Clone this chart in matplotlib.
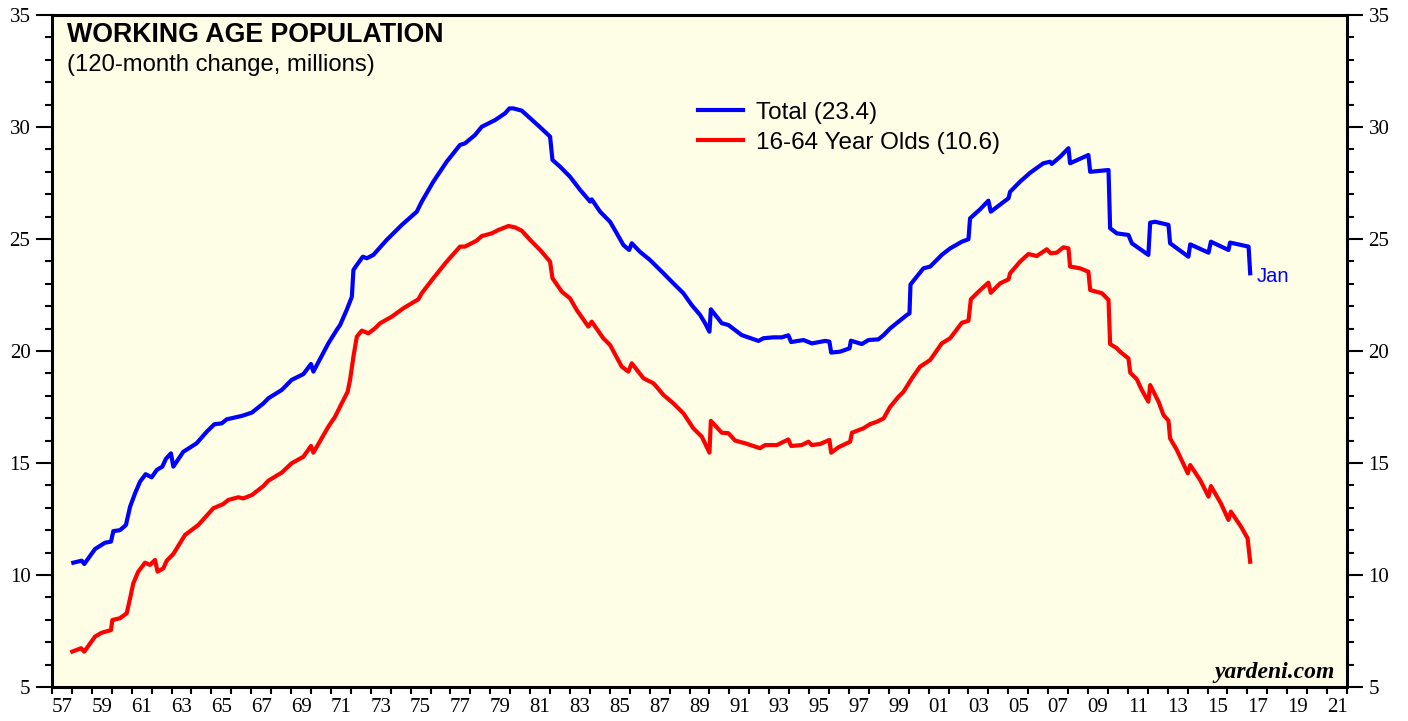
import numpy as np
import matplotlib
matplotlib.use("Agg")
import matplotlib.pyplot as plt
from matplotlib.ticker import MultipleLocator, FixedLocator, FixedFormatter

# Total working age population, 120-month change (millions)
total_years = [1958.07, 1958.49, 1958.62, 1959.16, 1959.66, 1959.96, 1960.08, 1960.41, 1960.71, 1960.92,
               1961.17, 1961.42, 1961.70, 1962.00, 1962.26, 1962.54, 1962.72, 1962.97, 1963.09, 1963.59,
               1964.26, 1964.77, 1965.15, 1965.52, 1965.77, 1966.52, 1967.03, 1967.61, 1967.86, 1968.53,
               1969.03, 1969.62, 1970.00, 1970.12, 1970.87, 1971.29, 1971.46, 1971.79, 1972.05, 1972.13,
               1972.30, 1972.60, 1972.80, 1973.13, 1973.80, 1974.56, 1975.31, 1975.56, 1976.14, 1976.81,
               1977.48, 1977.73, 1978.23, 1978.57, 1978.90, 1979.24, 1979.74, 1979.96, 1980.16, 1980.58,
               1981.00, 1981.50, 1982.00, 1982.12, 1982.50, 1983.00, 1983.51, 1984.01, 1984.09, 1984.51,
               1985.01, 1985.35, 1985.68, 1985.97, 1986.10, 1986.51, 1987.02, 1987.69, 1988.19, 1988.69,
               1989.11, 1989.53, 1989.78, 1990.00, 1990.07, 1990.62, 1990.95, 1991.62, 1992.46, 1992.71,
               1993.21, 1993.63, 1993.96, 1994.10, 1994.72, 1995.14, 1995.81, 1996.02, 1996.11, 1996.56,
               1997.03, 1997.10, 1997.65, 1997.98, 1998.48, 1998.74, 1999.07, 1999.49, 1999.91, 2000.04,
               2000.09, 2000.74, 2001.08, 2001.66, 2002.08, 2002.67, 2003.00, 2003.08, 2003.59, 2004.00,
               2004.12, 2005.01, 2005.09, 2005.59, 2006.10, 2006.76, 2007.10, 2007.18, 2007.60, 2008.02,
               2008.10, 2009.02, 2009.11, 2010.03, 2010.11, 2010.45, 2011.03, 2011.20, 2012.03, 2012.12,
               2012.37, 2013.04, 2013.12, 2014.04, 2014.13, 2015.05, 2015.17, 2016.05, 2016.13, 2017.06,
               2017.14]
total_vals = [10.55, 10.64, 10.49, 11.16, 11.44, 11.49, 11.96, 12.00, 12.23, 13.05,
              13.65, 14.17, 14.50, 14.36, 14.69, 14.84, 15.19, 15.43, 14.84, 15.50,
              15.88, 16.40, 16.73, 16.77, 16.95, 17.10, 17.25, 17.66, 17.89, 18.26,
              18.71, 18.97, 19.42, 19.08, 20.34, 20.94, 21.16, 21.83, 22.42, 23.62,
              23.84, 24.21, 24.14, 24.29, 24.96, 25.63, 26.22, 26.67, 27.56, 28.45,
              29.20, 29.27, 29.64, 30.01, 30.16, 30.31, 30.61, 30.83, 30.83, 30.73,
              30.39, 29.99, 29.57, 28.53, 28.23, 27.78, 27.19, 26.67, 26.77, 26.22,
              25.77, 25.25, 24.73, 24.51, 24.81, 24.43, 24.06, 23.47, 23.02, 22.58,
              22.05, 21.61, 21.24, 20.86, 21.86, 21.24, 21.16, 20.71, 20.45, 20.57,
              20.61, 20.61, 20.70, 20.40, 20.49, 20.34, 20.45, 20.42, 19.93, 19.97,
              20.12, 20.46, 20.31, 20.49, 20.52, 20.71, 21.01, 21.31, 21.61, 21.68,
              22.97, 23.69, 23.77, 24.29, 24.58, 24.88, 24.99, 25.92, 26.33, 26.71,
              26.22, 26.82, 27.11, 27.56, 27.96, 28.38, 28.45, 28.35, 28.67, 29.05,
              28.38, 28.75, 28.00, 28.08, 25.48, 25.25, 25.18, 24.81, 24.29, 25.73,
              25.77, 25.63, 24.81, 24.21, 24.76, 24.39, 24.88, 24.51, 24.84, 24.66,
              23.47]

# 16-64 year olds, 120-month change (millions)
young_years = [1958.02, 1958.46, 1958.62, 1959.16, 1959.49, 1959.96, 1960.03, 1960.41, 1960.75, 1960.92,
               1961.08, 1961.33, 1961.67, 1961.92, 1962.17, 1962.30, 1962.59, 1962.76, 1963.09, 1963.68,
               1964.34, 1965.10, 1965.60, 1965.85, 1966.35, 1966.60, 1967.03, 1967.61, 1967.86, 1968.53,
               1969.03, 1969.62, 1970.00, 1970.12, 1970.87, 1971.21, 1971.54, 1971.84, 1971.96, 1972.13,
               1972.30, 1972.55, 1972.88, 1973.21, 1973.47, 1974.05, 1974.64, 1975.39, 1975.56, 1976.14,
               1976.81, 1977.48, 1977.73, 1978.32, 1978.57, 1979.07, 1979.40, 1979.91, 1980.24, 1980.58,
               1981.00, 1981.50, 1982.00, 1982.12, 1982.59, 1983.00, 1983.34, 1983.92, 1984.09, 1984.67,
               1985.01, 1985.60, 1985.93, 1986.10, 1986.69, 1987.19, 1987.69, 1988.19, 1988.69, 1989.19,
               1989.62, 1990.00, 1990.07, 1990.62, 1990.95, 1991.29, 1991.79, 1992.54, 1992.79, 1993.38,
               1993.96, 1994.10, 1994.63, 1994.97, 1995.14, 1995.56, 1996.02, 1996.11, 1996.47, 1997.06,
               1997.15, 1997.73, 1998.07, 1998.40, 1998.74, 1999.07, 1999.49, 1999.74, 2000.16, 2000.57,
               2001.08, 2001.66, 2002.08, 2002.67, 2003.00, 2003.12, 2003.59, 2004.00, 2004.12, 2004.59,
               2005.01, 2005.09, 2005.59, 2006.01, 2006.43, 2006.93, 2007.13, 2007.43, 2007.77, 2008.02,
               2008.10, 2008.61, 2009.02, 2009.11, 2009.70, 2010.03, 2010.11, 2010.45, 2010.61, 2011.03,
               2011.12, 2011.45, 2011.70, 2012.03, 2012.12, 2012.54, 2012.79, 2013.04, 2013.12, 2013.46,
               2014.01, 2014.13, 2014.63, 2015.05, 2015.17, 2015.67, 2016.05, 2016.17, 2016.68, 2017.01,
               2017.14]
young_vals = [6.58, 6.73, 6.58, 7.25, 7.42, 7.54, 7.99, 8.07, 8.29, 8.96,
              9.63, 10.15, 10.55, 10.45, 10.67, 10.15, 10.30, 10.64, 10.94, 11.79,
              12.23, 12.98, 13.17, 13.35, 13.47, 13.42, 13.57, 13.97, 14.21, 14.57,
              14.99, 15.28, 15.76, 15.46, 16.62, 17.07, 17.66, 18.18, 18.71, 19.75,
              20.64, 20.91, 20.79, 21.01, 21.24, 21.53, 21.91, 22.31, 22.58, 23.25,
              23.99, 24.66, 24.66, 24.93, 25.13, 25.25, 25.40, 25.58, 25.52, 25.37,
              24.96, 24.51, 23.99, 23.25, 22.65, 22.35, 21.83, 21.09, 21.31, 20.57,
              20.27, 19.30, 19.08, 19.45, 18.78, 18.56, 18.04, 17.66, 17.22, 16.55,
              16.17, 15.46, 16.88, 16.35, 16.33, 16.00, 15.88, 15.66, 15.80, 15.80,
              16.05, 15.76, 15.80, 15.95, 15.80, 15.85, 16.03, 15.46, 15.70, 15.95,
              16.35, 16.55, 16.74, 16.84, 16.99, 17.51, 17.96, 18.18, 18.78, 19.30,
              19.60, 20.34, 20.57, 21.26, 21.35, 22.31, 22.72, 23.05, 22.60, 23.02,
              23.20, 23.47, 23.99, 24.33, 24.24, 24.54, 24.36, 24.39, 24.63, 24.58,
              23.77, 23.69, 23.54, 22.72, 22.58, 22.28, 20.31, 20.12, 19.97, 19.67,
              19.03, 18.74, 18.26, 17.74, 18.48, 17.74, 17.14, 16.89, 16.10, 15.58,
              14.54, 14.91, 14.24, 13.50, 13.97, 13.20, 12.46, 12.83, 12.16, 11.64,
              10.59]

year_labels = [f"{y % 100:02d}" for y in range(1957, 2022, 2)]

sans = ["Liberation Sans", "DejaVu Sans"]
serif = ["Liberation Serif", "DejaVu Serif"]

fig = plt.figure(figsize=(14.08, 7.21), dpi=100)
ax = fig.add_axes([52 / 1408, 1 - 687 / 721, 1295 / 1408, 672 / 721])
ax.set_facecolor("#fefee6")

ax.plot(total_years, total_vals, color="#0000ff", lw=3.0, label="Total (23.4)")
ax.plot(young_years, young_vals, color="#ff0000", lw=3.0, label="16-64 Year Olds (10.6)")

ax.set_xlim(1957, 2022)
ax.set_ylim(5, 35)

# x axis: a tick for every year, labels centred on odd years
ax.xaxis.set_major_locator(MultipleLocator(1))
ax.xaxis.set_major_formatter(plt.NullFormatter())
ax.xaxis.set_minor_locator(FixedLocator([y + 0.5 for y in range(1957, 2022, 2)]))
ax.xaxis.set_minor_formatter(FixedFormatter(year_labels))
ax.tick_params(axis="x", which="major", direction="out", length=5, width=1.5, top=False)
ax.tick_params(axis="x", which="minor", length=0, pad=8, labelsize=15, top=False)

ax.yaxis.set_major_locator(MultipleLocator(5))
ax.yaxis.set_minor_locator(MultipleLocator(1))
ax.tick_params(axis="y", which="major", direction="out", length=11.5, width=1.5,
               left=True, right=True, labelleft=True, labelright=True, labelsize=15, pad=4)
ax.tick_params(axis="y", which="minor", direction="out", length=5, width=1.5,
               left=True, right=True)

for lab in ax.get_xticklabels(minor=True) + ax.get_yticklabels():
    lab.set_family(serif)

for s in ax.spines.values():
    s.set_linewidth(2.2)
    s.set_color("black")

ax.text(0.0116, 0.970, "WORKING AGE POPULATION", transform=ax.transAxes,
        fontsize=19.3, fontweight="bold", family=sans, va="center", ha="left")
ax.text(0.0116, 0.9256, "(120-month change, millions)", transform=ax.transAxes,
        fontsize=17.2, family=sans, va="center", ha="left")

leg = ax.legend(loc="upper left", bbox_to_anchor=(0.4988, 0.871), frameon=False,
                prop={"family": sans, "size": 17.5}, handlelength=1.85,
                handletextpad=0.55, labelspacing=0.34, borderpad=0, borderaxespad=0)

ax.annotate("Jan", xy=(total_years[-1], total_vals[-1]), xytext=(5, -2),
            textcoords="offset points", color="#0000ff", fontsize=14.5,
            family=sans, va="center", ha="left")

ax.text(0.9907, 0.014, "yardeni.com", transform=ax.transAxes, fontsize=17,
        fontweight="bold", fontstyle="italic", family=serif, ha="right", va="baseline")

fig.savefig("out.png", dpi=100, facecolor="white")
